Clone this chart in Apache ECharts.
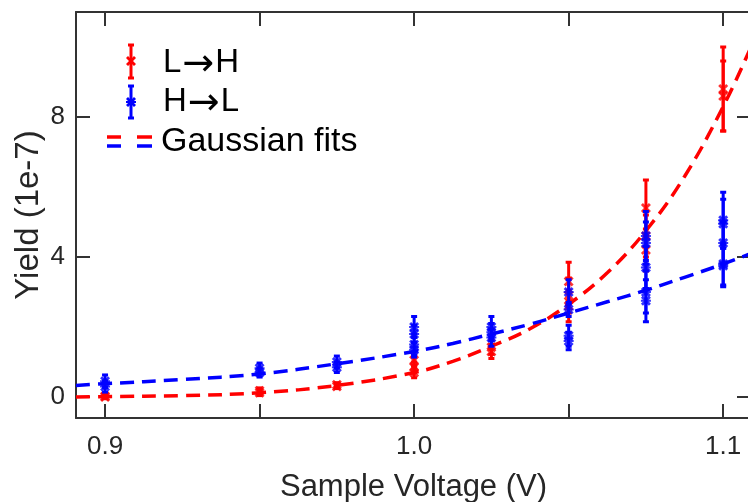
<!DOCTYPE html>
<html><head><meta charset="utf-8">
<script src="https://cdn.jsdelivr.net/npm/echarts@6/dist/echarts.min.js"></script>
<style>html,body{margin:0;padding:0;background:#fff}#c{width:748px;height:502px}</style>
</head><body><div id="c"></div>
<script>
// ---- data ----
const xTicks = [0.9, 0.95, 1.0, 1.05, 1.1];
const xLabels = [0.9, 1.0, 1.1];
const yTicks = [0, 4, 8];

// L->H (red)
const redX   = [0.9, 0.9, 0.95, 0.95, 0.975, 0.975, 1.0, 1.0, 1.0, 1.025, 1.025, 1.05, 1.05, 1.05, 1.075, 1.075, 1.075, 1.1, 1.1];
const redY   = [0.0, 0.02, 0.12, 0.18, 0.3, 0.35, 0.7, 0.85, 1.05, 1.3, 1.42, 2.6, 2.9, 3.3, 4.2, 4.6, 5.4, 8.6, 8.8];
const redErr = [0.05, 0.05, 0.08, 0.08, 0.06, 0.06, 0.15, 0.15, 0.15, 0.2, 0.2, 0.45, 0.5, 0.55, 0.6, 0.6, 0.8, 1.0, 1.2];

// H->L (blue)
const blueX   = [0.9, 0.9, 0.95, 0.95, 0.975, 0.975, 1.0, 1.0, 1.0, 1.0, 1.025, 1.025, 1.025, 1.05, 1.05, 1.05, 1.05, 1.075, 1.075, 1.075, 1.075, 1.075, 1.1, 1.1, 1.1, 1.1, 1.1];
const blueY   = [0.3, 0.45, 0.7, 0.82, 0.85, 1.0, 1.35, 1.5, 1.8, 2.0, 1.7, 1.85, 2.0, 1.6, 1.75, 2.5, 3.0, 2.75, 3.0, 3.7, 4.4, 4.6, 3.75, 3.8, 4.4, 4.95, 5.05];
const blueErr = [0.16, 0.18, 0.13, 0.15, 0.15, 0.17, 0.21, 0.3, 0.25, 0.3, 0.25, 0.25, 0.3, 0.25, 0.3, 0.2, 0.35, 0.6, 0.6, 0.6, 0.6, 0.7, 0.6, 0.6, 0.6, 0.7, 0.8];

// Gaussian fit curves
const fitX     = [0.8906, 0.9, 0.925, 0.95, 0.975, 1.0, 1.0125, 1.025, 1.0375, 1.05, 1.0625, 1.075, 1.0875, 1.1, 1.109];
const redFitY  = [0.0, 0.01, 0.04, 0.12, 0.33, 0.7, 1.02, 1.45, 1.95, 2.65, 3.55, 4.75, 6.3, 8.3, 10.0];
const blueFitY = [0.33, 0.38, 0.5, 0.66, 0.95, 1.3, 1.53, 1.8, 2.08, 2.4, 2.72, 3.05, 3.42, 3.8, 4.1];

const RED = '#ff0000', BLUE = '#0000ff', AX = '#333333', TXT = '#262626';
const FONT = '"Liberation Sans", Arial, sans-serif';
const X_SYM = 'path://M2,0 L5,3 L8,0 L10,2 L7,5 L10,8 L8,10 L5,7 L2,10 L0,8 L3,5 L0,2 Z';
const STAR_SYM = 'path://M2,0 L5,3 L8,0 L10,2 L7,5 L10,8 L8,10 L5,7 L2,10 L0,8 L3,5 L0,2 Z M0,4 L10,4 L10,6 L0,6 Z';
const X_PTS = [[2,0],[5,3],[8,0],[10,2],[7,5],[10,8],[8,10],[5,7],[2,10],[0,8],[3,5],[0,2]];

function errData(xs, ys, es) { return xs.map((x, i) => [x, ys[i] - es[i], ys[i] + es[i]]); }
function ptData(xs, ys) { return xs.map((x, i) => [x, ys[i]]); }
function errRender(color) {
  return function (params, api) {
    const x = api.value(0), lo = api.value(1), hi = api.value(2);
    const t = api.coord([x, hi]), b = api.coord([x, lo]);
    const hw = 3, st = { stroke: color, lineWidth: 3 };
    return { type: 'group', children: [
      { type: 'line', shape: { x1: t[0], y1: t[1], x2: b[0], y2: b[1] }, style: st },
      { type: 'line', shape: { x1: t[0] - hw, y1: t[1], x2: t[0] + hw, y2: t[1] }, style: st },
      { type: 'line', shape: { x1: b[0] - hw, y1: b[1], x2: b[0] + hw, y2: b[1] }, style: st }
    ]};
  };
}
function xPoly(ox, oy, color) {
  return { type: 'polygon', shape: { points: X_PTS.map(p => [p[0] + ox, p[1] + oy]) }, style: { fill: color } };
}
function legText(x, y, a, b) {
  return { type: 'text', x: x, y: y, style: {
    text: '{t|' + a + '}{ar|→}{t|' + b + '}', verticalAlign: 'middle',
    rich: {
      t: { fontSize: 33, fontFamily: FONT, fill: '#000', verticalAlign: 'middle', lineHeight: 36 },
      ar: { fontSize: 38, fontFamily: 'DejaVu Sans', fill: '#000', verticalAlign: 'middle', lineHeight: 36, padding: [4, 1, 0, 1] }
    }
  } };
}

const chart = echarts.init(document.getElementById('c'), null, { renderer: 'canvas' });
const baseX = { type: 'value', min: 0.8906, max: 1.109, splitLine: { show: false } };
const baseY = { type: 'value', min: -0.6, max: 11, splitLine: { show: false } };
const axLine = { show: true, onZero: false, lineStyle: { color: AX, width: 2 } };

chart.setOption({
  animation: false,
  backgroundColor: '#fff',
  grid: { left: 76, right: -3, top: 12, bottom: 84, containLabel: false, outerBoundsMode: 'none' },
  xAxis: [
    Object.assign({}, baseX, {
      position: 'bottom', axisLine: axLine,
      axisTick: { show: true, inside: true, length: 14, customValues: xTicks, lineStyle: { color: AX, width: 2 } },
      axisLabel: { show: true, customValues: xLabels, margin: 16, fontSize: 26, color: TXT, fontFamily: FONT,
        formatter: v => v.toFixed(1) },
      name: 'Sample Voltage (V)', nameLocation: 'middle', nameGap: 54, nameMoveOverlap: false,
      nameTextStyle: { fontSize: 31, color: TXT, fontFamily: FONT }
    }),
    Object.assign({}, baseX, {
      position: 'top', axisLine: axLine,
      axisTick: { show: true, inside: true, length: 14, customValues: xTicks, lineStyle: { color: AX, width: 2 } },
      axisLabel: { show: false }
    })
  ],
  yAxis: [
    Object.assign({}, baseY, {
      position: 'left', axisLine: axLine,
      axisTick: { show: true, inside: true, length: 14, customValues: yTicks, lineStyle: { color: AX, width: 2 } },
      axisLabel: { show: true, customValues: yTicks, margin: 11, fontSize: 26, color: TXT, fontFamily: FONT },
      name: 'Yield (1e-7)', nameLocation: 'middle', nameGap: 31, nameRotate: 90, nameMoveOverlap: false,
      nameTextStyle: { fontSize: 33, color: TXT, fontFamily: FONT }
    }),
    Object.assign({}, baseY, {
      position: 'right', axisLine: axLine,
      axisTick: { show: true, inside: true, length: 14, customValues: yTicks, lineStyle: { color: AX, width: 2 } },
      axisLabel: { show: false }
    })
  ],
  series: [
    { type: 'custom', name: 'L→H err', renderItem: errRender(RED), data: errData(redX, redY, redErr), z: 2 },
    { type: 'scatter', name: 'L→H', data: ptData(redX, redY), symbol: X_SYM, symbolSize: 10, itemStyle: { color: RED }, z: 3 },
    { type: 'line', name: 'fit red', data: ptData(fitX, redFitY), smooth: 0.4, showSymbol: false, symbol: 'none',
      lineStyle: { color: RED, width: 3.5, type: [14, 8] }, z: 4 },
    { type: 'custom', name: 'H→L err', renderItem: errRender(BLUE), data: errData(blueX, blueY, blueErr), z: 5 },
    { type: 'scatter', name: 'H→L', data: ptData(blueX, blueY), symbol: STAR_SYM, symbolSize: 10, itemStyle: { color: BLUE }, z: 6 },
    { type: 'line', name: 'fit blue', data: ptData(fitX, blueFitY), smooth: 0.4, showSymbol: false, symbol: 'none',
      lineStyle: { color: BLUE, width: 3.5, type: [14, 8] }, z: 7 }
  ],
  graphic: [
    // legend: L->H
    { type: 'line', shape: { x1: 131, y1: 45, x2: 131, y2: 78 }, style: { stroke: RED, lineWidth: 3 } },
    { type: 'line', shape: { x1: 128, y1: 45, x2: 134, y2: 45 }, style: { stroke: RED, lineWidth: 3 } },
    { type: 'line', shape: { x1: 128, y1: 78, x2: 134, y2: 78 }, style: { stroke: RED, lineWidth: 3 } },
    xPoly(126, 56, RED),
    legText(163, 63, 'L', 'H'),
    // legend: H->L
    { type: 'line', shape: { x1: 131, y1: 86, x2: 131, y2: 118 }, style: { stroke: BLUE, lineWidth: 3 } },
    { type: 'line', shape: { x1: 128, y1: 86, x2: 134, y2: 86 }, style: { stroke: BLUE, lineWidth: 3 } },
    { type: 'line', shape: { x1: 128, y1: 118, x2: 134, y2: 118 }, style: { stroke: BLUE, lineWidth: 3 } },
    xPoly(126, 97, BLUE),
    { type: 'rect', shape: { x: 126, y: 101, width: 10, height: 2 }, style: { fill: BLUE } },
    legText(163, 102, 'H', 'L'),
    // legend: Gaussian fits
    { type: 'line', shape: { x1: 107, y1: 137, x2: 121, y2: 137 }, style: { stroke: RED, lineWidth: 3.5 } },
    { type: 'line', shape: { x1: 137, y1: 137, x2: 152, y2: 137 }, style: { stroke: RED, lineWidth: 3.5 } },
    { type: 'line', shape: { x1: 107, y1: 146, x2: 121, y2: 146 }, style: { stroke: BLUE, lineWidth: 3.5 } },
    { type: 'line', shape: { x1: 137, y1: 146, x2: 152, y2: 146 }, style: { stroke: BLUE, lineWidth: 3.5 } },
    { type: 'text', x: 161, y: 142, style: { text: 'Gaussian fits', fill: '#000', font: '34px ' + FONT, verticalAlign: 'middle' } }
  ]
});
</script></body></html>
